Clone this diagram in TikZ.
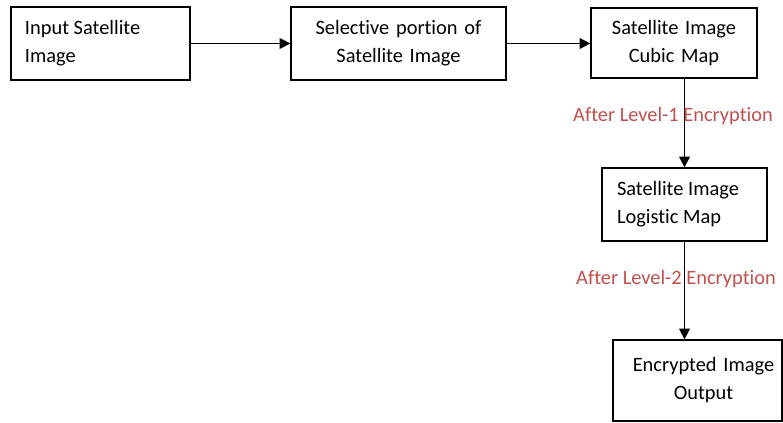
\documentclass[tikz,border=0pt]{standalone}
\usepackage{fontspec}
\setmainfont[Ligatures=NoCommon]{Carlito}
\usetikzlibrary{arrows.meta}
\definecolor{labelred}{HTML}{C0504D}

\begin{document}
\begin{tikzpicture}[x=0.75pt,y=-0.75pt,
    block/.style={draw, line width=0.9pt, inner ysep=0pt, font=\fontsize{15.3}{21}\selectfont},
    flow/.style={-{Triangle[length=8pt,width=8pt]}, line width=0.9pt},
    steplabel/.style={text=labelred, font=\fontsize{15.3}{21}\selectfont}]
    \useasboundingbox (0,0) rectangle (783,423);

    % Top row
    \node[block, minimum height=54.75pt, inner xsep=10.5pt, text width=113.25pt, align=flush left] (input) at (100.5,43.5) {Input Satellite\\Image};
    \node[block, minimum height=54.75pt, inner xsep=0pt, text width=161.25pt, align=center] (portion) at (398.5,43.5) {Selective portion of\\Satellite Image};
    \node[block, minimum height=52.5pt, inner xsep=0pt, text width=124.5pt, align=center] (cubic) at (674,43) {Satellite Image\\Cubic Map};

    % Right column
    \node[block, minimum height=54.75pt, inner xsep=11.25pt, text width=101.25pt, align=flush left] (logistic) at (684.5,204.5) {Satellite Image\\Logistic Map};
    \node[block, minimum height=60.75pt, inner xsep=0pt, text width=126.75pt, align=center] (output) at (697.5,380.5) {\hspace*{9pt}Encrypted Image\\\hspace*{9pt}Output};

    % Connectors
    \draw[flow] (input) -- (portion);
    \draw[flow] (portion.east) -- (portion.east -| cubic.west);
    \draw[flow] (logistic.north |- cubic.south) -- (logistic.north);
    \draw[flow] (logistic.south) -- (logistic.south |- output.north);

    % Encryption labels
    \node[steplabel] (level1) at (673,116) {After Level-1 Encryption};
    \node[steplabel] (level2) at (676,279) {After Level-2 Encryption};
\end{tikzpicture}
\end{document}
